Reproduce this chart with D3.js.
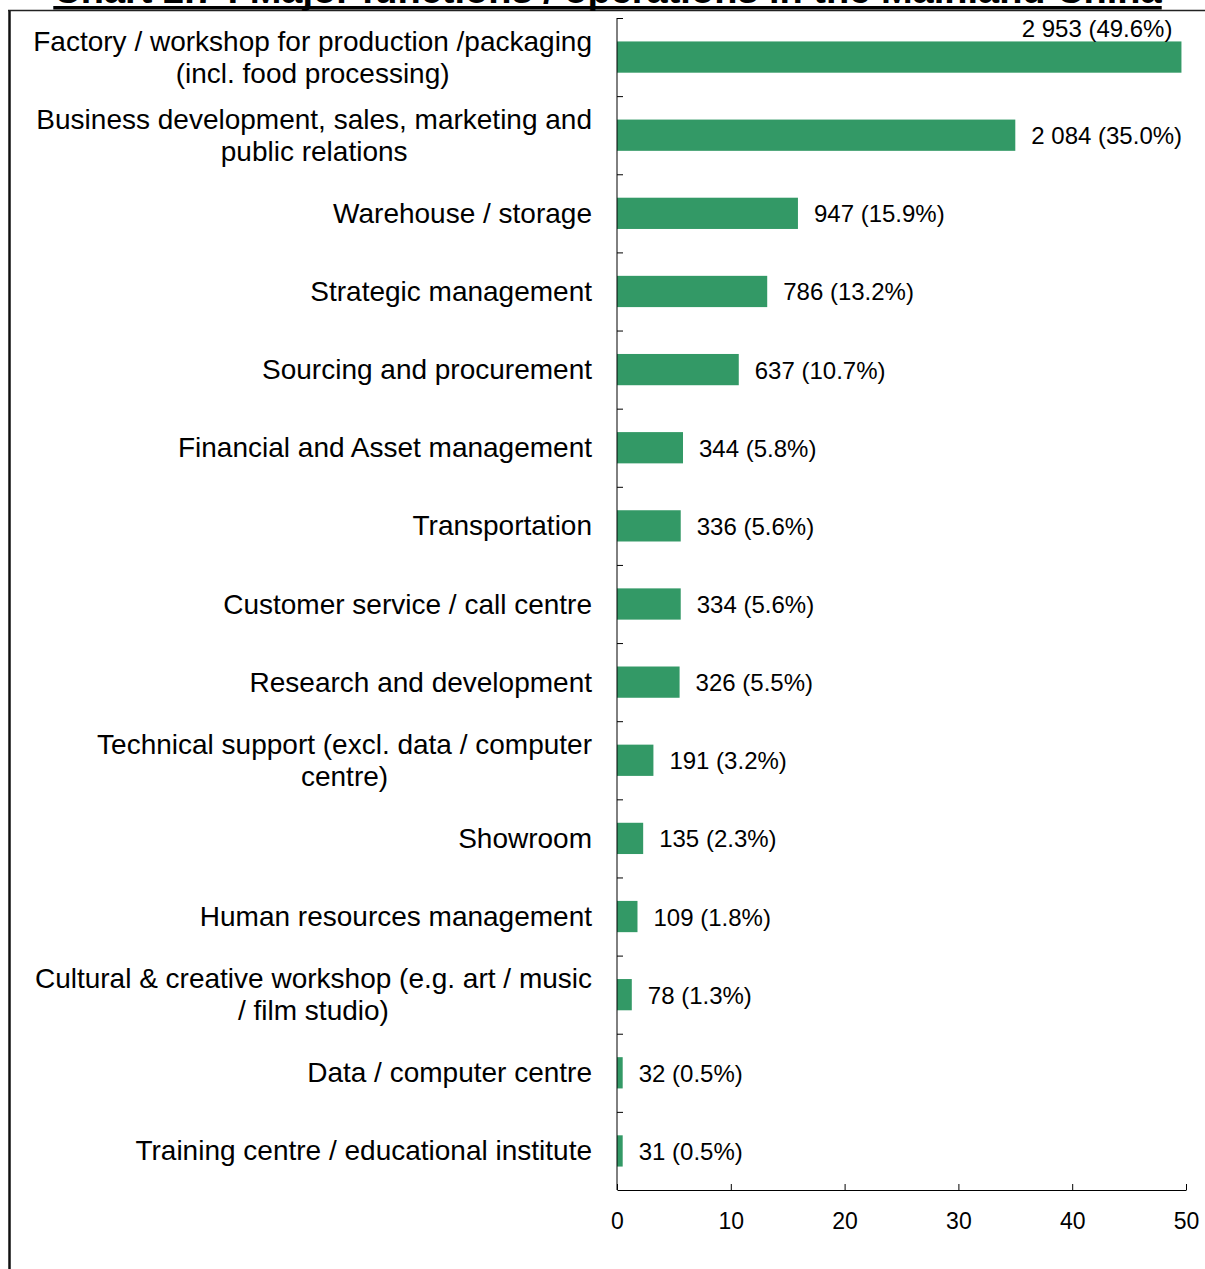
<!DOCTYPE html>
<html>
<head>
<meta charset="utf-8">
<script src="https://cdn.jsdelivr.net/npm/d3@7"></script>
<style>
  html, body { margin: 0; padding: 0; background: #fff; }
  svg { display: block; }
  text { font-family: Arial, "Liberation Sans", sans-serif; fill: #000; }
</style>
</head>
<body>
<svg id="chart" width="1205" height="1269"></svg>
<script>
// Major functions / operations, number of companies and share (%)
const categories = [
  "Factory / workshop for production /packaging\n(incl. food processing)",
  "Business development, sales, marketing and\npublic relations",
  "Warehouse / storage",
  "Strategic management",
  "Sourcing and procurement",
  "Financial and Asset management",
  "Transportation",
  "Customer service / call centre",
  "Research and development",
  "Technical support (excl. data / computer\ncentre)",
  "Showroom",
  "Human resources management",
  "Cultural & creative workshop (e.g. art / music\n/ film studio)",
  "Data / computer centre",
  "Training centre / educational institute"
];
const counts = [2953, 2084, 947, 786, 637, 344, 336, 334, 326, 191, 135, 109, 78, 32, 31];
const percents = [49.6, 35.0, 15.9, 13.2, 10.7, 5.8, 5.6, 5.6, 5.5, 3.2, 2.3, 1.8, 1.3, 0.5, 0.5];
const xTicks = [0, 10, 20, 30, 40, 50];
const titleText = "Chart 2.7 : Major functions / operations in the Mainland China";

const svg = d3.select("#chart");
const barColor = "#339966";

// plot area
const plotLeft = 617, plotRight = 1186, plotTop = 18, plotBottom = 1190;

const x = d3.scaleLinear().domain([0, 50]).range([plotLeft, plotRight]);
const y = d3.scaleBand()
  .domain(d3.range(categories.length))
  .range([plotTop, plotBottom])
  .paddingInner(0.6)
  .paddingOuter(0.3);

const fmtCount = d3.formatLocale({ decimal: ".", thousands: " ", grouping: [3], currency: ["", ""] }).format(",d");
const fmtPct = d3.format(".1f");

// outer frame
svg.append("line").attr("x1", 9.5).attr("x2", 9.5).attr("y1", 10).attr("y2", 1269)
  .attr("stroke", "#111").attr("stroke-width", 2.5);
svg.append("line").attr("x1", 8).attr("x2", 1205).attr("y1", 10.5).attr("y2", 10.5)
  .attr("stroke", "#222").attr("stroke-width", 1.5);

// title (bold, underlined)
const title = svg.append("text")
  .attr("x", 607.5).attr("y", 3)
  .attr("text-anchor", "middle")
  .style("font-weight", "bold").style("font-size", "38px")
  .text(titleText);
const tw = title.node().getComputedTextLength();
svg.append("rect").attr("x", 607.5 - tw / 2).attr("y", 6).attr("width", tw).attr("height", 3.5).attr("fill", "#000");

// bars
svg.append("g").selectAll("rect")
  .data(percents)
  .join("rect")
  .attr("x", x(0))
  .attr("y", (d, i) => y(i))
  .attr("width", d => x(d) - x(0))
  .attr("height", y.bandwidth())
  .attr("fill", barColor);

// value labels
svg.append("g").selectAll("text")
  .data(percents)
  .join("text")
  .style("font-size", "24px")
  .attr("dominant-baseline", "central")
  .each(function (d, i) {
    const t = d3.select(this);
    t.text(`${fmtCount(counts[i])} (${fmtPct(d)}%)`);
    if (i === 0) {
      // widest bar: label sits above its end
      t.attr("text-anchor", "end").attr("x", x(d) - 9).attr("y", y(i) - 12.5);
    } else {
      t.attr("text-anchor", "start").attr("x", x(d) + 16).attr("y", y(i) + y.bandwidth() / 2 + 0.5);
    }
  });

// y axis line and boundary ticks
const step = y.step();
const g = svg.append("g");
g.append("line").attr("x1", plotLeft).attr("x2", plotLeft).attr("y1", plotTop).attr("y2", plotBottom)
  .attr("stroke", "#000").attr("stroke-width", 1);
g.selectAll("line.tick")
  .data(d3.range(categories.length))
  .join("line")
  .attr("class", "tick")
  .attr("x1", plotLeft).attr("x2", plotLeft + 6)
  .attr("y1", i => y(i) + y.bandwidth() / 2 - step / 2 + 0.5)
  .attr("y2", i => y(i) + y.bandwidth() / 2 - step / 2 + 0.5)
  .attr("stroke", "#000").attr("stroke-width", 1);

// category labels: multi-line blocks are centred on their widest line, right edge fixed
const labelRight = 592, lineH = 32;
categories.forEach((c, i) => {
  const lines = c.split("\n");
  const cy = y(i) + y.bandwidth() / 2;
  const t = svg.append("text").style("font-size", "28px").attr("text-anchor", "middle");
  const spans = lines.map((ln, k) =>
    t.append("tspan").attr("y", cy + (k - (lines.length - 1) / 2) * lineH).attr("dominant-baseline", "central").text(ln));
  const maxW = d3.max(spans, s => s.node().getComputedTextLength());
  spans.forEach(s => s.attr("x", labelRight - maxW / 2));
});

// x axis
const xAxis = d3.axisBottom(x).tickValues(xTicks).tickSizeInner(-6).tickSizeOuter(0).tickPadding(23);
const ax = svg.append("g").attr("transform", `translate(0,${plotBottom})`).call(xAxis);
ax.select(".domain").attr("stroke", "#000");
ax.selectAll(".tick line").attr("stroke", "#000");
ax.selectAll(".tick text").style("font-size", "23px").style("font-family", "Arial, 'Liberation Sans', sans-serif").attr("fill", "#000");
</script>
</body>
</html>
